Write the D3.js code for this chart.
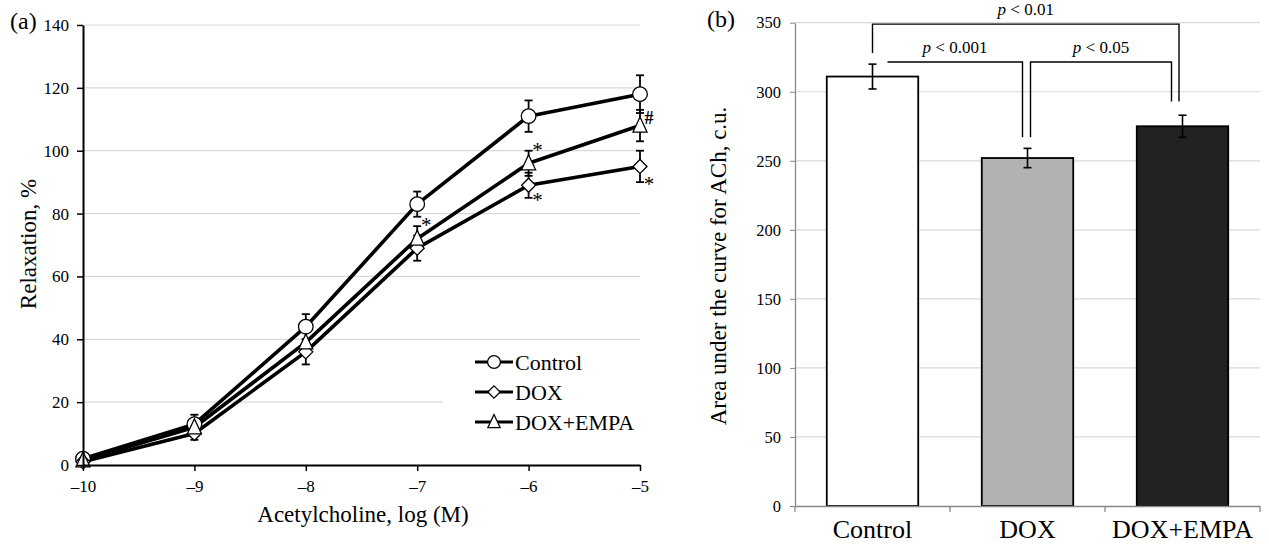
<!DOCTYPE html>
<html>
<head>
<meta charset="utf-8">
<script src="https://cdn.jsdelivr.net/npm/d3@7"></script>
<style>
  body { margin: 0; background: #fff; }
  svg { display: block; font-family: "Liberation Serif", "Times New Roman", serif; }
</style>
</head>
<body>
<svg id="chart" width="1269" height="546"></svg>
<script>
// ---- panel (a) data ----
const concentrations = [-10, -9, -8, -7, -6, -5];
const controlMean = [2, 13, 44, 83, 111, 118];
const controlErr  = [1, 3, 4, 4, 5, 6];
const doxMean     = [1, 10, 36, 69, 89, 95];
const doxErr      = [1, 2, 4, 4, 4, 5];
const empaMean    = [1.5, 12, 39, 72, 96, 108];
const empaErr     = [1, 2, 4, 4, 4, 5];
const seriesNames = ["Control", "DOX", "DOX+EMPA"];
const yTicksA = [0, 20, 40, 60, 80, 100, 120, 140];
const xTicksA = [-10, -9, -8, -7, -6, -5];
// significance marks: concentration, series, side of the error bar, symbol
const sigConc   = [-7, -6, -6, -5, -5];
const sigSeries = ["DOX+EMPA", "DOX+EMPA", "DOX", "DOX+EMPA", "DOX"];
const sigSide   = ["top", "top", "bottom", "mid", "bottom"];
const sigSymbol = ["*", "*", "*", "#", "*"];

// ---- panel (b) data ----
const groups   = ["Control", "DOX", "DOX+EMPA"];
const aucMean  = [311, 252, 275];
const aucErr   = [9, 7, 8];
const yTicksB  = [0, 50, 100, 150, 200, 250, 300, 350];
const pLabels  = ["p < 0.01", "p < 0.001", "p < 0.05"];

const svg = d3.select("#chart");

// =================== panel (a) ===================
const xA = d3.scaleLinear().domain([-10, -5]).range([83, 640]);
const yA = d3.scaleLinear().domain([0, 140]).range([465, 25]);

// gridlines
svg.append("g")
  .selectAll("line")
  .data(yTicksA.filter(d => d > 0))
  .join("line")
    .attr("x1", xA(-10)).attr("x2", xA(-5))
    .attr("y1", d => yA(d)).attr("y2", d => yA(d))
    .attr("stroke", "#d9d9d9").attr("stroke-width", 1.2);

const series = [
  {name: "Control",  mean: controlMean, err: controlErr, shape: "circle"},
  {name: "DOX",      mean: doxMean,     err: doxErr,     shape: "diamond"},
  {name: "DOX+EMPA", mean: empaMean,    err: empaErr,    shape: "triangle"}
];

function markerPath(shape) {
  if (shape === "circle") return d3.symbol(d3.symbolCircle, Math.PI * 7.3 * 7.3)();
  if (shape === "diamond") return "M0,-7L7,0L0,7L-7,0Z";
  return "M0,-8.5L7,6.5L-7,6.5Z";
}

// error bars
series.forEach(s => {
  const g = svg.append("g").attr("stroke", "#000").attr("stroke-width", 1.8);
  concentrations.forEach((c, i) => {
    const x = xA(c), top = yA(s.mean[i] + s.err[i]), bot = yA(s.mean[i] - s.err[i]);
    g.append("line").attr("x1", x).attr("x2", x).attr("y1", top).attr("y2", bot);
    g.append("line").attr("x1", x - 4).attr("x2", x + 4).attr("y1", top).attr("y2", top);
    g.append("line").attr("x1", x - 4).attr("x2", x + 4).attr("y1", bot).attr("y2", bot);
  });
});

// lines
const line = d3.line().x(d => xA(d[0])).y(d => yA(d[1]));
series.forEach(s => {
  svg.append("path")
    .datum(concentrations.map((c, i) => [c, s.mean[i]]))
    .attr("d", line)
    .attr("fill", "none")
    .attr("stroke", "#000")
    .attr("stroke-width", 3.6)
    .attr("stroke-linejoin", "round");
});

// markers
series.forEach(s => {
  svg.append("g")
    .selectAll("path")
    .data(concentrations.map((c, i) => [c, s.mean[i]]))
    .join("path")
      .attr("transform", d => `translate(${xA(d[0])},${yA(d[1])})`)
      .attr("d", markerPath(s.shape))
      .attr("fill", "#fff")
      .attr("stroke", "#000")
      .attr("stroke-width", 1.3);
});

// significance marks
sigConc.forEach((c, k) => {
  const s = series.find(d => d.name === sigSeries[k]);
  const i = concentrations.indexOf(c);
  let v = s.mean[i];
  if (sigSide[k] === "top") v = s.mean[i] + s.err[i];
  if (sigSide[k] === "bottom") v = s.mean[i] - s.err[i];
  const isHash = sigSymbol[k] === "#";
  let cy = yA(v);
  if (sigSide[k] === "top") cy -= 5;
  if (sigSide[k] === "bottom") cy -= 2;
  if (isHash) cy -= 8;
  svg.append("text")
    .attr("x", xA(c) + 9)
    .attr("y", cy + (isHash ? 6 : 11))
    .attr("font-size", isHash ? 18 : 21)
    .attr("font-weight", isHash ? "bold" : "normal")
    .attr("text-anchor", "middle")
    .text(sigSymbol[k]);
});

// legend (white box hides gridlines under it)
const legend = svg.append("g");
legend.append("rect")
  .attr("x", 443).attr("y", 346).attr("width", 200).attr("height", 110)
  .attr("fill", "#fff");
series.forEach((s, k) => {
  const ly = 362 + k * 30;
  legend.append("line")
    .attr("x1", 475).attr("x2", 513).attr("y1", ly).attr("y2", ly)
    .attr("stroke", "#000").attr("stroke-width", 3.2);
  legend.append("path")
    .attr("transform", `translate(494,${ly}) scale(0.88)`)
    .attr("d", markerPath(s.shape))
    .attr("fill", "#fff").attr("stroke", "#000").attr("stroke-width", 1.4);
  legend.append("text")
    .attr("x", 515).attr("y", ly + 8)
    .attr("font-size", 22)
    .text(seriesNames[k]);
});

// axes
const axA_y = svg.append("g")
  .attr("transform", `translate(${xA(-10)},0)`)
  .call(d3.axisLeft(yA).tickValues(yTicksA).tickSize(6).tickSizeOuter(0).tickPadding(8));
const axA_x = svg.append("g")
  .attr("transform", `translate(0,${yA(0)})`)
  .call(d3.axisBottom(xA).tickValues(xTicksA).tickSize(6).tickSizeOuter(0).tickPadding(9)
    .tickFormat(d => "\u2013" + Math.abs(d)));
[axA_y, axA_x].forEach(ax => {
  ax.select(".domain").attr("stroke", "#000").attr("stroke-width", 2);
  ax.selectAll(".tick line").attr("stroke", "#000").attr("stroke-width", 1.5);
  ax.selectAll(".tick text").attr("font-size", 17).attr("fill", "#000")
    .attr("font-family", "Liberation Serif, Times New Roman, serif");
});

svg.append("text")
  .attr("transform", "translate(36,244) rotate(-90)")
  .attr("text-anchor", "middle").attr("font-size", 23)
  .text("Relaxation, %");
svg.append("text")
  .attr("x", 363).attr("y", 522)
  .attr("text-anchor", "middle").attr("font-size", 23)
  .text("Acetylcholine, log (M)");
svg.append("text")
  .attr("x", 10).attr("y", 29).attr("font-size", 24)
  .text("(a)");

// =================== panel (b) ===================
const xB = d3.scaleBand().domain(groups).range([795, 1260]).padding(0);
const yB = d3.scaleLinear().domain([0, 350]).range([506, 22.7]);
const barW = xB.bandwidth() * 0.59;
const cx = g => xB(g) + xB.bandwidth() / 2;

svg.append("g")
  .selectAll("line")
  .data(yTicksB.filter(d => d > 0))
  .join("line")
    .attr("x1", 795).attr("x2", 1260)
    .attr("y1", d => yB(d)).attr("y2", d => yB(d))
    .attr("stroke", "#d9d9d9").attr("stroke-width", 1.2);

const barFill = ["#ffffff", "#b2b2b2", "#222222"];
svg.append("g")
  .selectAll("rect")
  .data(groups)
  .join("rect")
    .attr("x", d => cx(d) - barW / 2)
    .attr("y", (d, i) => yB(aucMean[i]))
    .attr("width", barW)
    .attr("height", (d, i) => yB(0) - yB(aucMean[i]))
    .attr("fill", (d, i) => barFill[i])
    .attr("stroke", "#000").attr("stroke-width", 1.8);

// bar error bars
groups.forEach((g, i) => {
  const x = cx(g), top = yB(aucMean[i] + aucErr[i]), bot = yB(aucMean[i] - aucErr[i]);
  const eg = svg.append("g").attr("stroke", "#000").attr("stroke-width", 1.6);
  eg.append("line").attr("x1", x).attr("x2", x).attr("y1", top).attr("y2", bot);
  eg.append("line").attr("x1", x - 4).attr("x2", x + 4).attr("y1", top).attr("y2", top);
  eg.append("line").attr("x1", x - 4).attr("x2", x + 4).attr("y1", bot).attr("y2", bot);
});

const axB_y = svg.append("g")
  .attr("transform", "translate(795,0)")
  .call(d3.axisLeft(yB).tickValues(yTicksB).tickSize(5).tickSizeOuter(0).tickPadding(9));
const axB_x = svg.append("g")
  .attr("transform", `translate(0,${yB(0)})`)
  .call(d3.axisBottom(xB).tickSize(0).tickSizeOuter(0).tickPadding(14));
axB_y.select(".domain").attr("stroke", "#888").attr("stroke-width", 1.3);
axB_y.selectAll(".tick line").attr("stroke", "#888");
axB_y.selectAll(".tick text").attr("font-size", 16.5).attr("fill", "#000")
  .attr("font-family", "Liberation Serif, Times New Roman, serif");
axB_x.select(".domain").attr("stroke", "#888").attr("stroke-width", 1.3);
axB_x.selectAll(".tick text").attr("font-size", 26).attr("fill", "#000")
  .attr("font-family", "Liberation Serif, Times New Roman, serif");
// category separator ticks
svg.append("g")
  .selectAll("line")
  .data([...groups.map(g => xB(g)), 1260])
  .join("line")
    .attr("x1", d => d).attr("x2", d => d)
    .attr("y1", yB(0)).attr("y2", yB(0) + 6)
    .attr("stroke", "#888").attr("stroke-width", 1.3);

// comparison brackets
const br = svg.append("g").attr("fill", "none").attr("stroke", "#000").attr("stroke-width", 1.4);
const c0 = cx(groups[0]), c1 = cx(groups[1]), c2 = cx(groups[2]);
br.append("path").attr("d",
  `M${c0},${yB(328)}V${yB(349)}H${c2 - 3.5}V${yB(293)}`);
br.append("path").attr("d",
  `M${c0 + 15},${yB(321.5)}H${c1 - 5}V${yB(267)}`);
br.append("path").attr("d",
  `M${c1 + 3},${yB(267)}V${yB(321.5)}H${c2 - 11}V${yB(293)}`);

function pText(x, y, label) {
  const t = svg.append("text").attr("x", x).attr("y", y)
    .attr("text-anchor", "middle").attr("font-size", 17);
  t.append("tspan").attr("font-style", "italic").text(label.slice(0, 1));
  t.append("tspan").text(label.slice(1));
}
pText((c0 + c2 - 3.5) / 2, yB(349) - 9, pLabels[0]);
pText((c0 + 15 + c1 - 5) / 2, yB(321.5) - 9, pLabels[1]);
pText((c1 + 3 + c2 - 11) / 2, yB(321.5) - 9, pLabels[2]);

svg.append("text")
  .attr("transform", "translate(726,266) rotate(-90)")
  .attr("text-anchor", "middle").attr("font-size", 23)
  .text("Area under the curve for ACh, c.u.");
svg.append("text")
  .attr("x", 707).attr("y", 27).attr("font-size", 24)
  .text("(b)");
</script>
</body>
</html>
